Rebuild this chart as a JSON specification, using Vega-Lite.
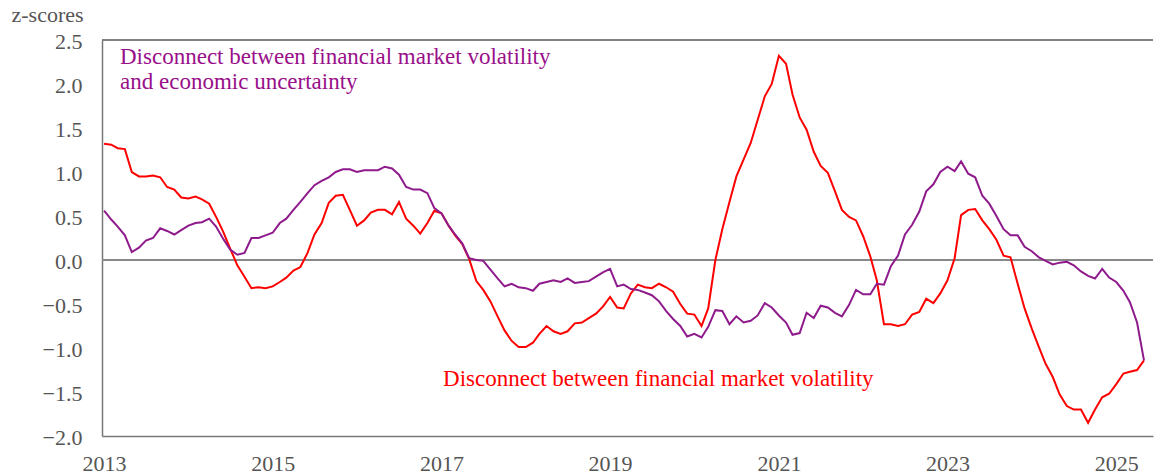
{
  "$schema": "https://vega.github.io/schema/vega-lite/v6.json",
  "width": 1051,
  "height": 396,
  "autosize": {"type": "none"},
  "padding": {"left": 102, "top": 40, "right": 1, "bottom": 39},
  "background": "white",
  "config": {
    "view": {"stroke": null},
    "axis": {
      "domainColor": "#777777",
      "domainWidth": 1.5,
      "ticks": false,
      "grid": false,
      "labelFont": "Liberation Serif",
      "labelFontSize": 22,
      "labelColor": "#555555",
      "labelFlush": false,
      "labelOverlap": false,
      "labelBound": false,
      "titleFont": "Liberation Serif",
      "titleFontSize": 22,
      "titleFontWeight": "normal",
      "titleColor": "#555555"
    }
  },
  "datasets": {
    "series": [
      {"date": "2013-01-01", "red": 1.32, "purple": 0.56},
      {"date": "2013-02-01", "red": 1.31, "purple": 0.46},
      {"date": "2013-03-01", "red": 1.27, "purple": 0.38},
      {"date": "2013-04-01", "red": 1.26, "purple": 0.28},
      {"date": "2013-05-01", "red": 1.00, "purple": 0.09},
      {"date": "2013-06-01", "red": 0.95, "purple": 0.14},
      {"date": "2013-07-01", "red": 0.95, "purple": 0.22},
      {"date": "2013-08-01", "red": 0.96, "purple": 0.25},
      {"date": "2013-09-01", "red": 0.94, "purple": 0.36},
      {"date": "2013-10-01", "red": 0.83, "purple": 0.33},
      {"date": "2013-11-01", "red": 0.80, "purple": 0.29},
      {"date": "2013-12-01", "red": 0.71, "purple": 0.34},
      {"date": "2014-01-01", "red": 0.70, "purple": 0.39},
      {"date": "2014-02-01", "red": 0.72, "purple": 0.42},
      {"date": "2014-03-01", "red": 0.69, "purple": 0.43},
      {"date": "2014-04-01", "red": 0.64, "purple": 0.47},
      {"date": "2014-05-01", "red": 0.49, "purple": 0.38},
      {"date": "2014-06-01", "red": 0.32, "purple": 0.24},
      {"date": "2014-07-01", "red": 0.13, "purple": 0.12},
      {"date": "2014-08-01", "red": -0.06, "purple": 0.06},
      {"date": "2014-09-01", "red": -0.19, "purple": 0.08},
      {"date": "2014-10-01", "red": -0.32, "purple": 0.25},
      {"date": "2014-11-01", "red": -0.31, "purple": 0.25},
      {"date": "2014-12-01", "red": -0.32, "purple": 0.28},
      {"date": "2015-01-01", "red": -0.30, "purple": 0.31},
      {"date": "2015-02-01", "red": -0.25, "purple": 0.42},
      {"date": "2015-03-01", "red": -0.20, "purple": 0.47},
      {"date": "2015-04-01", "red": -0.12, "purple": 0.57},
      {"date": "2015-05-01", "red": -0.08, "purple": 0.66},
      {"date": "2015-06-01", "red": 0.08, "purple": 0.76},
      {"date": "2015-07-01", "red": 0.29, "purple": 0.85},
      {"date": "2015-08-01", "red": 0.42, "purple": 0.90},
      {"date": "2015-09-01", "red": 0.65, "purple": 0.94},
      {"date": "2015-10-01", "red": 0.73, "purple": 1.00},
      {"date": "2015-11-01", "red": 0.74, "purple": 1.03},
      {"date": "2015-12-01", "red": 0.57, "purple": 1.03},
      {"date": "2016-01-01", "red": 0.39, "purple": 1.00},
      {"date": "2016-02-01", "red": 0.45, "purple": 1.02},
      {"date": "2016-03-01", "red": 0.54, "purple": 1.02},
      {"date": "2016-04-01", "red": 0.57, "purple": 1.02},
      {"date": "2016-05-01", "red": 0.57, "purple": 1.06},
      {"date": "2016-06-01", "red": 0.52, "purple": 1.04},
      {"date": "2016-07-01", "red": 0.66, "purple": 0.97},
      {"date": "2016-08-01", "red": 0.47, "purple": 0.83},
      {"date": "2016-09-01", "red": 0.39, "purple": 0.80},
      {"date": "2016-10-01", "red": 0.30, "purple": 0.80},
      {"date": "2016-11-01", "red": 0.42, "purple": 0.76},
      {"date": "2016-12-01", "red": 0.56, "purple": 0.59},
      {"date": "2017-01-01", "red": 0.53, "purple": 0.53},
      {"date": "2017-02-01", "red": 0.39, "purple": 0.39},
      {"date": "2017-03-01", "red": 0.28, "purple": 0.29},
      {"date": "2017-04-01", "red": 0.18, "purple": 0.19},
      {"date": "2017-05-01", "red": 0.01, "purple": 0.02},
      {"date": "2017-06-01", "red": -0.24, "purple": 0.00},
      {"date": "2017-07-01", "red": -0.34, "purple": -0.01},
      {"date": "2017-08-01", "red": -0.47, "purple": -0.11},
      {"date": "2017-09-01", "red": -0.64, "purple": -0.21},
      {"date": "2017-10-01", "red": -0.80, "purple": -0.30},
      {"date": "2017-11-01", "red": -0.92, "purple": -0.27},
      {"date": "2017-12-01", "red": -0.99, "purple": -0.31},
      {"date": "2018-01-01", "red": -0.99, "purple": -0.32},
      {"date": "2018-02-01", "red": -0.94, "purple": -0.35},
      {"date": "2018-03-01", "red": -0.84, "purple": -0.27},
      {"date": "2018-04-01", "red": -0.75, "purple": -0.25},
      {"date": "2018-05-01", "red": -0.81, "purple": -0.23},
      {"date": "2018-06-01", "red": -0.84, "purple": -0.25},
      {"date": "2018-07-01", "red": -0.81, "purple": -0.21},
      {"date": "2018-08-01", "red": -0.72, "purple": -0.26},
      {"date": "2018-09-01", "red": -0.71, "purple": -0.25},
      {"date": "2018-10-01", "red": -0.66, "purple": -0.24},
      {"date": "2018-11-01", "red": -0.61, "purple": -0.19},
      {"date": "2018-12-01", "red": -0.53, "purple": -0.14},
      {"date": "2019-01-01", "red": -0.42, "purple": -0.10},
      {"date": "2019-02-01", "red": -0.54, "purple": -0.30},
      {"date": "2019-03-01", "red": -0.55, "purple": -0.28},
      {"date": "2019-04-01", "red": -0.38, "purple": -0.33},
      {"date": "2019-05-01", "red": -0.28, "purple": -0.34},
      {"date": "2019-06-01", "red": -0.31, "purple": -0.37},
      {"date": "2019-07-01", "red": -0.32, "purple": -0.40},
      {"date": "2019-08-01", "red": -0.27, "purple": -0.47},
      {"date": "2019-09-01", "red": -0.31, "purple": -0.58},
      {"date": "2019-10-01", "red": -0.36, "purple": -0.67},
      {"date": "2019-11-01", "red": -0.50, "purple": -0.75},
      {"date": "2019-12-01", "red": -0.61, "purple": -0.87},
      {"date": "2020-01-01", "red": -0.62, "purple": -0.84},
      {"date": "2020-02-01", "red": -0.75, "purple": -0.88},
      {"date": "2020-03-01", "red": -0.55, "purple": -0.76},
      {"date": "2020-04-01", "red": 0.00, "purple": -0.57},
      {"date": "2020-05-01", "red": 0.35, "purple": -0.58},
      {"date": "2020-06-01", "red": 0.66, "purple": -0.73},
      {"date": "2020-07-01", "red": 0.95, "purple": -0.64},
      {"date": "2020-08-01", "red": 1.14, "purple": -0.71},
      {"date": "2020-09-01", "red": 1.33, "purple": -0.69},
      {"date": "2020-10-01", "red": 1.59, "purple": -0.63},
      {"date": "2020-11-01", "red": 1.86, "purple": -0.49},
      {"date": "2020-12-01", "red": 2.00, "purple": -0.54},
      {"date": "2021-01-01", "red": 2.32, "purple": -0.63},
      {"date": "2021-02-01", "red": 2.23, "purple": -0.71},
      {"date": "2021-03-01", "red": 1.88, "purple": -0.85},
      {"date": "2021-04-01", "red": 1.62, "purple": -0.83},
      {"date": "2021-05-01", "red": 1.48, "purple": -0.60},
      {"date": "2021-06-01", "red": 1.23, "purple": -0.66},
      {"date": "2021-07-01", "red": 1.07, "purple": -0.52},
      {"date": "2021-08-01", "red": 0.99, "purple": -0.54},
      {"date": "2021-09-01", "red": 0.78, "purple": -0.60},
      {"date": "2021-10-01", "red": 0.57, "purple": -0.64},
      {"date": "2021-11-01", "red": 0.49, "purple": -0.51},
      {"date": "2021-12-01", "red": 0.45, "purple": -0.34},
      {"date": "2022-01-01", "red": 0.27, "purple": -0.39},
      {"date": "2022-02-01", "red": 0.04, "purple": -0.39},
      {"date": "2022-03-01", "red": -0.23, "purple": -0.27},
      {"date": "2022-04-01", "red": -0.73, "purple": -0.28},
      {"date": "2022-05-01", "red": -0.73, "purple": -0.07},
      {"date": "2022-06-01", "red": -0.75, "purple": 0.05},
      {"date": "2022-07-01", "red": -0.73, "purple": 0.29},
      {"date": "2022-08-01", "red": -0.62, "purple": 0.40},
      {"date": "2022-09-01", "red": -0.59, "purple": 0.55},
      {"date": "2022-10-01", "red": -0.44, "purple": 0.78},
      {"date": "2022-11-01", "red": -0.49, "purple": 0.86},
      {"date": "2022-12-01", "red": -0.38, "purple": 1.00},
      {"date": "2023-01-01", "red": -0.23, "purple": 1.06},
      {"date": "2023-02-01", "red": 0.02, "purple": 1.01},
      {"date": "2023-03-01", "red": 0.51, "purple": 1.12},
      {"date": "2023-04-01", "red": 0.57, "purple": 0.98},
      {"date": "2023-05-01", "red": 0.58, "purple": 0.94},
      {"date": "2023-06-01", "red": 0.45, "purple": 0.73},
      {"date": "2023-07-01", "red": 0.35, "purple": 0.64},
      {"date": "2023-08-01", "red": 0.23, "purple": 0.50},
      {"date": "2023-09-01", "red": 0.05, "purple": 0.35},
      {"date": "2023-10-01", "red": 0.03, "purple": 0.28},
      {"date": "2023-11-01", "red": -0.27, "purple": 0.28},
      {"date": "2023-12-01", "red": -0.55, "purple": 0.15},
      {"date": "2024-01-01", "red": -0.78, "purple": 0.10},
      {"date": "2024-02-01", "red": -0.99, "purple": 0.03},
      {"date": "2024-03-01", "red": -1.18, "purple": -0.01},
      {"date": "2024-04-01", "red": -1.33, "purple": -0.05},
      {"date": "2024-05-01", "red": -1.53, "purple": -0.03},
      {"date": "2024-06-01", "red": -1.66, "purple": -0.02},
      {"date": "2024-07-01", "red": -1.70, "purple": -0.06},
      {"date": "2024-08-01", "red": -1.70, "purple": -0.13},
      {"date": "2024-09-01", "red": -1.85, "purple": -0.18},
      {"date": "2024-10-01", "red": -1.70, "purple": -0.21},
      {"date": "2024-11-01", "red": -1.56, "purple": -0.10},
      {"date": "2024-12-01", "red": -1.52, "purple": -0.20},
      {"date": "2025-01-01", "red": -1.41, "purple": -0.25},
      {"date": "2025-02-01", "red": -1.29, "purple": -0.35},
      {"date": "2025-03-01", "red": -1.27, "purple": -0.48},
      {"date": "2025-04-01", "red": -1.25, "purple": -0.71},
      {"date": "2025-05-01", "red": -1.14, "purple": -1.14}
    ],
    "labels": [
      {"series": "purple", "text": ["Disconnect between financial market volatility", "and economic uncertainty"]},
      {"series": "red", "text": "Disconnect between financial market volatility"}
    ]
  },
  "data": {"name": "series"},
  "layer": [
    {
      "mark": {"type": "rule", "color": "#888888", "strokeWidth": 2},
      "encoding": {"y": {"datum": 0, "type": "quantitative"}}
    },
    {
      "mark": {"type": "rule", "color": "#808080", "strokeWidth": 1.5},
      "encoding": {"y": {"datum": 2.5, "type": "quantitative"}}
    },
    {
      "mark": {"type": "line", "color": "#ff0000", "strokeWidth": 2},
      "encoding": {
        "x": {
          "field": "date", "type": "temporal",
          "scale": {"domain": [{"year": 2012, "month": 12, "date": 23}, {"year": 2025, "month": 6, "date": 9}]},
          "axis": {
            "title": null,
            "values": [{"year": 2013}, {"year": 2015}, {"year": 2017}, {"year": 2019}, {"year": 2021}, {"year": 2023}, {"year": 2025}],
            "format": "%Y",
            "labelBaseline": "alphabetic",
            "labelPadding": 34
          }
        },
        "y": {
          "field": "red", "type": "quantitative",
          "scale": {"domain": [-2, 2.5], "nice": false, "zero": false},
          "axis": {
            "title": "z-scores",
            "titleAngle": 0,
            "titleAlign": "left",
            "titleBaseline": "alphabetic",
            "titleX": -91,
            "titleY": -19,
            "values": [-2, -1.5, -1, -0.5, 0, 0.5, 1, 1.5, 2, 2.5],
            "format": ".1f",
            "labelPadding": 20,
            "labelBaseline": "alphabetic",
            "labelOffset": 8
          }
        }
      }
    },
    {
      "mark": {"type": "line", "color": "#8e1a8c", "strokeWidth": 2},
      "encoding": {
        "x": {"field": "date", "type": "temporal"},
        "y": {"field": "purple", "type": "quantitative", "axis": {"title": "z-scores"}}
      }
    },
    {
      "data": {"name": "labels"},
      "transform": [{"filter": "datum.series == 'purple'"}],
      "mark": {"type": "text", "align": "left", "baseline": "alphabetic", "font": "Liberation Serif", "fontSize": 23, "fill": "#990f8a", "lineHeight": 25},
      "encoding": {
        "x": {"datum": {"year": 2013, "month": 3, "date": 11}, "type": "temporal"},
        "y": {"datum": 2.227, "type": "quantitative"},
        "text": {"field": "text"}
      }
    },
    {
      "data": {"name": "labels"},
      "transform": [{"filter": "datum.series == 'red'"}],
      "mark": {"type": "text", "align": "left", "baseline": "alphabetic", "font": "Liberation Serif", "fontSize": 23, "fill": "#ff0000"},
      "encoding": {
        "x": {"datum": {"year": 2017, "month": 1, "date": 8}, "type": "temporal"},
        "y": {"datum": -1.432, "type": "quantitative"},
        "text": {"field": "text"}
      }
    }
  ]
}
